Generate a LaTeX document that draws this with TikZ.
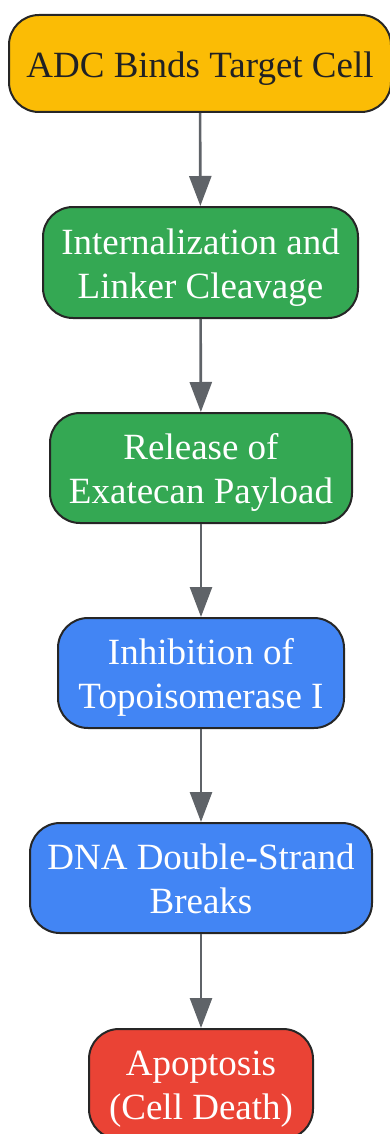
\documentclass[tikz,border=0pt]{standalone}
\usepackage{fontspec}
\setmainfont{Liberation Serif}
\usetikzlibrary{arrows.meta}
\definecolor{gyellow}{HTML}{FBBC05}
\definecolor{ggreen}{HTML}{34A853}
\definecolor{gblue}{HTML}{4285F4}
\definecolor{gred}{HTML}{EA4335}
\definecolor{garrow}{HTML}{5F6368}
\definecolor{gtext}{HTML}{202124}
\newcommand{\lbl}[1]{\raisebox{-5pt}[\height][\depth]{\begin{tabular}{@{}c@{}}#1\end{tabular}}}
\begin{document}
\begin{tikzpicture}[x=1pt,y=-1pt,
  box/.style={draw=black!85, line width=2pt, rounded corners=30pt, align=center,
    font=\fontsize{37}{44}\selectfont, inner sep=0pt, text=white},
  conn/.style={draw=garrow, line width=2.6pt, -{Triangle[length=30pt,width=22pt]}}]
\useasboundingbox (0,0) rectangle (390,1134);
\node[box, fill=gyellow, text=gtext, minimum width=382pt, minimum height=97pt] (n1) at (200,63.5) {\lbl{ADC Binds Target Cell}};
\node[box, fill=ggreen, minimum width=315pt, minimum height=111pt] (n2) at (200.5,262.5) {\lbl{Internalization and\\Linker Cleavage}};
\node[box, fill=ggreen, minimum width=302pt, minimum height=110pt] (n3) at (201,468) {\lbl{Release of\\Exatecan Payload}};
\node[box, fill=gblue, minimum width=286pt, minimum height=110pt] (n4) at (201,673) {\lbl{Inhibition of\\Topoisomerase I}};
\node[box, fill=gblue, minimum width=342pt, minimum height=110pt] (n5) at (201,878) {\lbl{DNA Double-Strand\\Breaks}};
\node[box, fill=gred, minimum width=224pt, minimum height=110pt] (n6) at (201,1084) {\lbl{Apoptosis\\(Cell Death)}};
\draw[conn] (n1) -- (n2);
\draw[conn] (n2) -- (n3);
\draw[conn] (n3) -- (n4);
\draw[conn] (n4) -- (n5);
\draw[conn] (n5) -- (n6);
\end{tikzpicture}
\end{document}
